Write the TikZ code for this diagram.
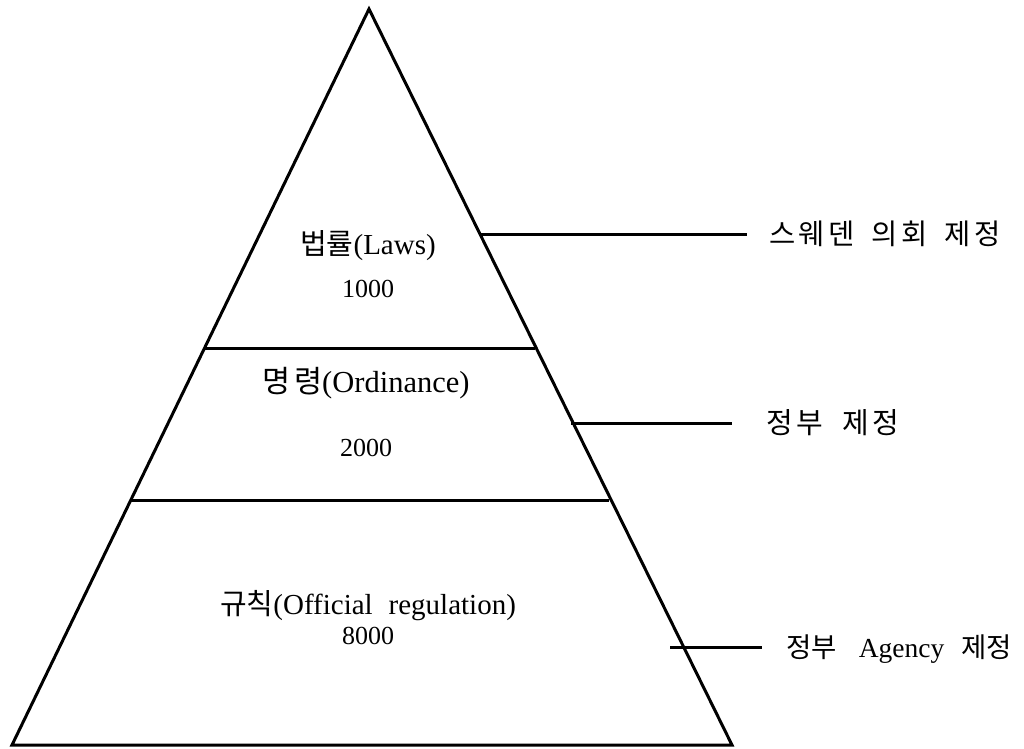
\documentclass[tikz,border=0pt]{standalone}
\usepackage{fontspec}
\setmainfont{Liberation Serif}
\newfontfamily\kr{Noto Sans CJK KR}
\newfontfamily\krwide{Noto Sans CJK KR}[LetterSpace=12]
\newcommand{\K}[1]{{\kr #1}}
\begin{document}
\begin{tikzpicture}[x=1pt,y=-1pt,
  edge/.style={line width=3pt,line join=miter},
  label/.style={font=\fontsize{29}{33}\selectfont,inner sep=0pt,anchor=base},
  number/.style={font=\fontsize{26}{30}\selectfont,inner sep=0pt,anchor=base},
  side/.style={font=\fontsize{27.5}{32}\selectfont,inner sep=0pt,anchor=base west}]
\useasboundingbox (0,0) rectangle (1024,748);
% pyramid outline and tier corners
\coordinate (apex) at (369,9);
\coordinate (bl) at (12,745);
\coordinate (br) at (732,745);
\draw[edge] (bl) -- (apex) -- (br) -- cycle;
\coordinate (a1l) at (205,348);
\coordinate (a1r) at (535,348);
\coordinate (a2l) at (131,500);
\coordinate (a2r) at (609,500);
\draw[edge] (a1l) -- (a1r);
\draw[edge] (a2l) -- (a2r);
% tier texts
\node[label] (t1) at (368,254) {\K{법률}(Laws)};
\node[number] (n1) at (368,297) {1000};
\node[label,font=\fontsize{30.5}{34}\selectfont] (t2) at (366,392) {{\krwide 명령}(Ordinance)};
\node[number] (n2) at (366,456) {2000};
\node[label] (t3) at (368,614) {\K{규칙}(Official\hspace{0.55em}regulation)};
\node[number] (n3) at (368,644) {8000};
% side connectors and their labels
\coordinate (c1) at (479,234);
\coordinate (e1) at (747,234);
\coordinate (c2) at (571,423);
\coordinate (e2) at (732,423);
\coordinate (c3) at (670,647);
\coordinate (e3) at (762,647);
\draw[edge] (c1) -- (e1);
\draw[edge] (c2) -- (e2);
\draw[edge] (c3) -- (e3);
\node[side,font=\fontsize{28.5}{32}\selectfont] (s1) at (769,244) {{\krwide 스웨덴}\hspace{17pt}{\krwide 의회}\hspace{17pt}{\krwide 제정}};
\node[side,font=\fontsize{29}{33}\selectfont] (s2) at (766,433) {{\krwide 정부}\hspace{19pt}{\krwide 제정}};
\node[side] (s3) at (786,657) {\K{정부}\hspace{22pt}Agency\hspace{17pt}\K{제정}};
\end{tikzpicture}
\end{document}
